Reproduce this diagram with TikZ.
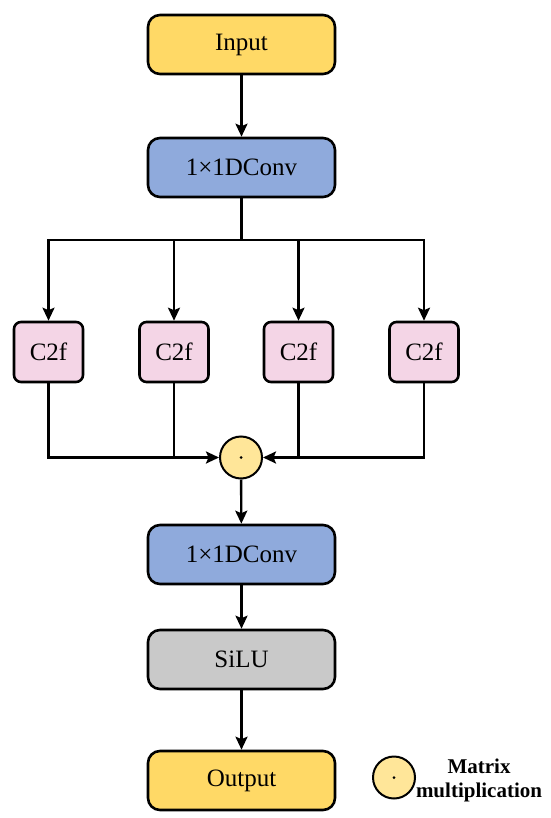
\documentclass[tikz,border=0pt]{standalone}
\usepackage{fontspec}
\setmainfont{Liberation Serif}
\usetikzlibrary{arrows.meta}
\definecolor{inyellow}{HTML}{FFD966}
\definecolor{convblue}{HTML}{8FAADC}
\definecolor{cpink}{HTML}{F4D5E6}
\definecolor{silugray}{HTML}{C9C9C9}
\definecolor{mulyellow}{HTML}{FFE699}
\tikzset{
  bigbox/.style={draw=black, line width=2.6pt, rounded corners=12pt, minimum width=187pt, minimum height=59pt, inner sep=0pt, font=\fontsize{25}{28}\selectfont},
  cbox/.style={draw=black, line width=2.6pt, rounded corners=7pt, fill=cpink, minimum width=69pt, minimum height=60pt, inner sep=0pt, font=\fontsize{25}{28}\selectfont},
  mulc/.style={draw=black, line width=2pt, circle, fill=mulyellow, minimum size=42pt, inner sep=0pt},
  conn/.style={draw=black, line width=2.4pt},
  arr/.style={conn, -{Stealth[length=13pt,width=12pt,inset=2.5pt]}}
}
\begin{document}
\begin{tikzpicture}[x=1pt,y=-1pt]
\useasboundingbox (0,0) rectangle (550,818);
\node[bigbox, fill=inyellow] (in) at (241.5,44.5) {Input};
\node[bigbox, fill=convblue] (conv1) at (241.5,167.5) {1×1DConv};
\node[cbox] (c1) at (48.5,352) {C2f};
\node[cbox] (c2) at (174,352) {C2f};
\node[cbox] (c3) at (298.5,352) {C2f};
\node[cbox] (c4) at (424,352) {C2f};
\node[mulc] (mul) at (241,457.5) {};
\fill (mul.center) circle (1.5pt);
\node[bigbox, fill=convblue] (conv2) at (241.5,554.5) {1×1DConv};
\node[bigbox, fill=silugray] (silu) at (241.5,659.5) {SiLU};
\node[bigbox, fill=inyellow] (out) at (241.5,780.5) {Output};
\node[mulc] (leg) at (394,777.5) {};
\fill (leg.center) circle (1.5pt);
\node[font=\bfseries\fontsize{21}{24}\selectfont, align=center, inner sep=0pt] (legtxt) at (479,780) {Matrix\\multiplication};
\coordinate (br) at (241.5,240);
\draw[arr] (in) -- (conv1);
\draw[conn] (conv1) -- (br);
\draw[arr] (br) -| (c1);
\draw[arr] (br) -| (c4);
\draw[arr] (c2 |- br) -- (c2);
\draw[arr] (c3 |- br) -- (c3);
\draw[arr] (c1) |- (mul);
\draw[conn] (c2) -- (c2 |- mul);
\draw[arr] (c4) |- (mul);
\draw[conn] (c3) -- (c3 |- mul);
\draw[arr] (mul) -- (conv2);
\draw[arr] (conv2) -- (silu);
\draw[arr] (silu) -- (out);
\end{tikzpicture}
\end{document}
